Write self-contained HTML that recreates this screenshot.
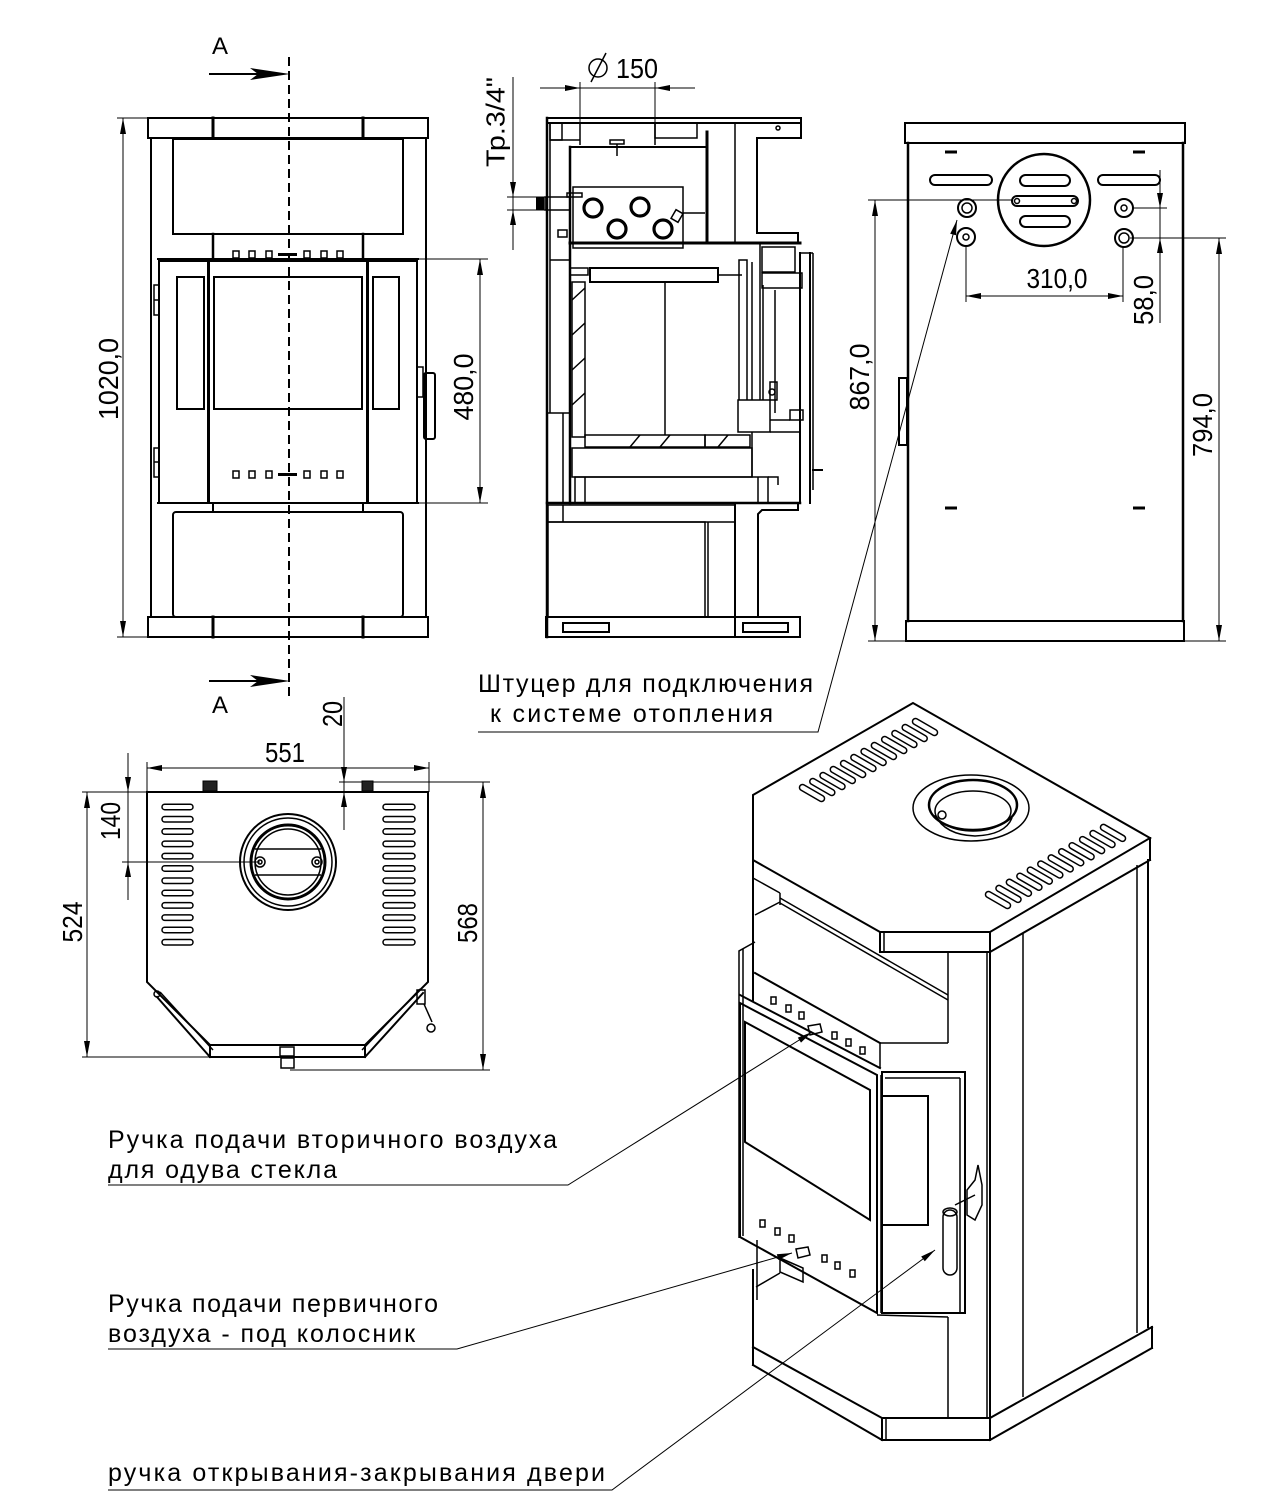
<!DOCTYPE html>
<html><head><meta charset="utf-8">
<style>
html,body{margin:0;padding:0;background:#fff;}
svg{display:block;}
text{font-family:"Liberation Sans","DejaVu Sans",sans-serif;fill:#000;}
.k{stroke:#000;fill:none;stroke-width:2;stroke-linecap:square;}
.m{stroke:#000;fill:none;stroke-width:1.5;}
.n{stroke:#000;fill:none;stroke-width:1;}
.a{fill:#000;stroke:none;}
.d{font-size:28px;}
.l{font-size:25px;}
</style></head>
<body>
<svg width="1280" height="1496" viewBox="0 0 1280 1496" xmlns="http://www.w3.org/2000/svg">
<rect x="0" y="0" width="1280" height="1496" fill="#fff"/>

<!-- ================= FRONT VIEW ================= -->
<text x="212" y="54" style="font-size:24px">A</text>
<line class="k" x1="210" y1="74" x2="270" y2="74"/>
<polygon class="a" points="290,74 250,68 258,74 250,80"/>
<text x="212" y="713" style="font-size:24px">A</text>
<line class="k" x1="210" y1="681" x2="270" y2="681"/>
<polygon class="a" points="290,681 250,675 258,681 250,687"/>
<line x1="289" y1="57" x2="289" y2="700" stroke="#000" stroke-width="2" stroke-dasharray="9,5"/>

<g class="k">
<rect x="148" y="118" width="280" height="20"/>
<line x1="213" y1="118" x2="213" y2="138" stroke-width="3"/>
<line x1="363" y1="118" x2="363" y2="138" stroke-width="3"/>
<line x1="151" y1="138" x2="151" y2="617"/>
<line x1="426" y1="138" x2="426" y2="617"/>
<rect x="173" y="139" width="230" height="95"/>
<line x1="213" y1="234" x2="213" y2="259" stroke-width="2.5"/>
<line x1="363" y1="234" x2="363" y2="259" stroke-width="2.5"/>
<line x1="158" y1="259" x2="418" y2="259"/>
<rect x="159" y="261" width="49" height="242"/>
<rect x="209" y="261" width="158" height="242"/>
<rect x="368" y="261" width="49" height="242"/>
<rect x="177" y="277" width="27" height="132"/>
<rect x="214" y="277" width="148" height="132"/>
<rect x="373" y="277" width="26" height="132"/>
<line x1="158" y1="503" x2="418" y2="503"/>
<line x1="213" y1="503" x2="213" y2="512"/>
<line x1="363" y1="503" x2="363" y2="512"/>
<rect x="173" y="512" width="230" height="105" rx="3"/>
<rect x="148" y="617" width="280" height="20"/>
<line x1="213" y1="617" x2="213" y2="637" stroke-width="3"/>
<line x1="363" y1="617" x2="363" y2="637" stroke-width="3"/>
</g>
<g class="m">
<rect x="233" y="251" width="6" height="7"/><rect x="249" y="251" width="6" height="7"/><rect x="266" y="251" width="6" height="7"/>
<rect x="304" y="251" width="6" height="7"/><rect x="321" y="251" width="6" height="7"/><rect x="337" y="251" width="6" height="7"/>
<rect x="233" y="471" width="6" height="7"/><rect x="249" y="471" width="6" height="7"/><rect x="266" y="471" width="6" height="7"/>
<rect x="304" y="471" width="6" height="7"/><rect x="321" y="471" width="6" height="7"/><rect x="337" y="471" width="6" height="7"/>
<rect x="154" y="285" width="5" height="30"/><line x1="154" y1="300" x2="159" y2="300"/>
<rect x="154" y="448" width="5" height="29"/><line x1="154" y1="462" x2="159" y2="462"/>
<rect x="417" y="367" width="6" height="30"/>
</g>
<line x1="278" y1="254.5" x2="297" y2="254.5" stroke="#000" stroke-width="3"/>
<line x1="278" y1="474.5" x2="297" y2="474.5" stroke="#000" stroke-width="3"/>
<rect x="424" y="373" width="11" height="66" rx="2" class="k"/>

<!-- 1020 dim -->
<g class="n">
<line x1="117" y1="118" x2="148" y2="118"/>
<line x1="117" y1="637" x2="148" y2="637"/>
<line x1="123" y1="118" x2="123" y2="637"/>
<line x1="417" y1="259" x2="488" y2="259"/>
<line x1="417" y1="503" x2="488" y2="503"/>
<line x1="480" y1="259" x2="480" y2="503"/>
</g>
<polygon class="a" points="123,118 120,134 126,134"/>
<polygon class="a" points="123,637 120,621 126,621"/>
<polygon class="a" points="480,259 477,275 483,275"/>
<polygon class="a" points="480,503 477,487 483,487"/>
<text class="d" transform="translate(108,379) rotate(-90)" text-anchor="middle" dy="0.36em" textLength="82" lengthAdjust="spacingAndGlyphs">1020,0</text>
<text class="d" transform="translate(463,387) rotate(-90)" text-anchor="middle" dy="0.36em" textLength="67" lengthAdjust="spacingAndGlyphs">480,0</text>

<!-- ================= SECTION VIEW ================= -->
<g class="n">
<line x1="540" y1="88" x2="695" y2="88"/>
<line x1="580" y1="82" x2="580" y2="143"/>
<line x1="655" y1="82" x2="655" y2="143"/>
<line x1="513" y1="77" x2="513" y2="250"/>
<line x1="507" y1="197" x2="547" y2="197"/>
<line x1="507" y1="210" x2="547" y2="210"/>
</g>
<polygon class="a" points="580,88 565,85 565,91"/>
<polygon class="a" points="655,88 670,85 670,91"/>
<polygon class="a" points="513,197 510,182 516,182"/>
<polygon class="a" points="513,210 510,225 516,225"/>
<circle cx="598" cy="68" r="9" class="m"/>
<line x1="591" y1="82" x2="606" y2="53" class="m"/>
<text class="d" x="637" y="78" text-anchor="middle" textLength="42" lengthAdjust="spacingAndGlyphs">150</text>
<text style="font-size:26px" transform="translate(495,122) rotate(-90)" text-anchor="middle" dy="0.36em" textLength="90" lengthAdjust="spacingAndGlyphs">Тр.3/4"</text>

<g class="k">
<rect x="547" y="118" width="254" height="5"/>
<line x1="801" y1="118" x2="801" y2="138"/>
<line x1="547" y1="118" x2="547" y2="637" stroke-width="2.5"/>
<line x1="570" y1="147" x2="707" y2="147"/>
<line x1="570" y1="147" x2="570" y2="503" stroke-width="2.5"/>
<line x1="707" y1="132" x2="707" y2="243" stroke-width="3"/>
<line x1="570" y1="243" x2="800" y2="243" stroke-width="3"/>
<polyline points="801,138 757,138 757,233 798,233 798,243"/>
<rect x="590" y="268" width="128" height="14"/>
<line x1="547" y1="503" x2="800" y2="503" stroke-width="2.5"/>
<line x1="735" y1="503" x2="735" y2="637"/>
<polyline points="798,503 798,510 762,510 758,514 758,617"/>
<rect x="546" y="617" width="254" height="20"/>
<rect x="563" y="623" width="46" height="9"/>
<rect x="743" y="623" width="45" height="9"/>
<line x1="800" y1="253" x2="800" y2="503"/>
<line x1="810" y1="253" x2="810" y2="503"/>
</g>
<g class="m">
<line x1="550" y1="123" x2="550" y2="413"/>
<rect x="550" y="123" width="12" height="17"/>
<line x1="550" y1="140" x2="580" y2="140"/>
<line x1="580" y1="123" x2="580" y2="145"/>
<line x1="655" y1="123" x2="655" y2="145"/>
<rect x="655" y="123" width="42" height="15"/>
<rect x="610" y="140" width="14" height="4"/>
<line x1="617" y1="144" x2="617" y2="156"/>
<line x1="735" y1="123" x2="735" y2="243"/>
<circle cx="778" cy="128" r="2"/>
<rect x="573" y="187" width="110" height="61"/>
<rect x="545" y="197" width="25" height="13"/>
<rect x="567" y="193" width="15" height="4"/>
<rect x="558" y="230" width="9" height="7"/>
<line x1="683" y1="213" x2="705" y2="213"/>
<rect x="673" y="211" width="8" height="10" transform="rotate(30 677 216)"/>
<line x1="550" y1="260" x2="570" y2="260"/>
<rect x="570" y="268" width="18" height="7"/>
<line x1="718" y1="275" x2="742" y2="275"/>
<line x1="665" y1="282" x2="665" y2="435"/>
<rect x="572" y="282" width="13" height="155"/>
<line x1="572" y1="300" x2="585" y2="288"/>
<line x1="572" y1="335" x2="585" y2="323"/>
<line x1="572" y1="370" x2="585" y2="358"/>
<line x1="572" y1="405" x2="585" y2="393"/>
<polyline points="739,400 739,260 747,260 747,400"/>
<line x1="752" y1="262" x2="752" y2="400"/>
<line x1="760" y1="243" x2="760" y2="400"/>
<line x1="763" y1="285" x2="763" y2="400"/>
<line x1="775" y1="290" x2="775" y2="413"/>
<rect x="762" y="247" width="33" height="25"/>
<rect x="762" y="273" width="40" height="15"/>
<line x1="813" y1="253" x2="813" y2="490"/>
<line x1="800" y1="253" x2="813" y2="253"/>
<rect x="738" y="400" width="32" height="32"/>
<rect x="770" y="382" width="7" height="18"/>
<circle cx="772" cy="392" r="3"/>
<rect x="790" y="410" width="13" height="10"/>
<line x1="770" y1="432" x2="800" y2="432"/>
<line x1="770" y1="420" x2="790" y2="420"/>
<rect x="585" y="435" width="120" height="12"/>
<rect x="705" y="435" width="45" height="12"/>
<line x1="630" y1="447" x2="640" y2="435"/>
<line x1="660" y1="447" x2="670" y2="435"/>
<line x1="718" y1="447" x2="728" y2="435"/>
<rect x="572" y="448" width="180" height="29"/>
<rect x="575" y="477" width="193" height="26"/>
<line x1="585" y1="477" x2="585" y2="503"/>
<line x1="758" y1="477" x2="758" y2="503"/>
<polyline points="768,477 778,477 778,485"/>
<line x1="752" y1="432" x2="752" y2="477"/>
<rect x="548" y="505" width="187" height="17"/>
<line x1="563" y1="505" x2="563" y2="522"/>
<rect x="548" y="522" width="157" height="95"/>
<line x1="708" y1="522" x2="708" y2="617"/>
<line x1="563" y1="413" x2="563" y2="503"/>
<line x1="548" y1="413" x2="569" y2="413"/>
</g>
<rect x="536" y="197" width="8" height="13" class="a"/>
<line x1="812" y1="470" x2="823" y2="470" stroke="#000" stroke-width="2"/>
<circle cx="593" cy="208" r="9" fill="none" stroke="#000" stroke-width="3.2"/>
<circle cx="640" cy="207" r="9" fill="none" stroke="#000" stroke-width="3.2"/>
<circle cx="617" cy="229" r="9" fill="none" stroke="#000" stroke-width="3.2"/>
<circle cx="663" cy="229" r="9" fill="none" stroke="#000" stroke-width="3.2"/>

<!-- ================= BACK VIEW ================= -->
<g class="k">
<rect x="905" y="123" width="280" height="20"/>
<line x1="908" y1="143" x2="908" y2="621" stroke-width="2.5"/>
<line x1="1183" y1="143" x2="1183" y2="621" stroke-width="2.5"/>
<rect x="906" y="621" width="278" height="20"/>
<circle cx="1044" cy="200" r="46" stroke-width="2.5"/>
<rect x="930" y="175" width="62" height="10" rx="5"/>
<rect x="1098" y="175" width="62" height="10" rx="5"/>
<rect x="1020" y="175" width="50" height="11" rx="5.5"/>
<rect x="1012" y="196" width="66" height="10" rx="5"/>
<rect x="1020" y="216" width="50" height="11" rx="5.5"/>
<circle cx="967" cy="208" r="9"/>
<circle cx="966" cy="237" r="9"/>
<circle cx="1124" cy="208" r="9"/>
<circle cx="1124" cy="238" r="9"/>
<rect x="899" y="378" width="8" height="67"/>
</g>
<g class="m">
<circle cx="967" cy="208" r="5"/>
<circle cx="966" cy="237" r="3"/>
<circle cx="1124" cy="208" r="3"/>
<circle cx="1124" cy="238" r="5"/>
<circle cx="1017" cy="201" r="2.5"/>
<circle cx="1074" cy="201" r="2.5"/>
</g>
<g stroke="#000" stroke-width="3">
<line x1="945" y1="152" x2="957" y2="152"/><line x1="1133" y1="152" x2="1145" y2="152"/>
<line x1="945" y1="508" x2="957" y2="508"/><line x1="1133" y1="508" x2="1145" y2="508"/>
</g>
<g class="n">
<line x1="868" y1="200" x2="1013" y2="200"/>
<line x1="868" y1="641" x2="1226" y2="641"/>
<line x1="875" y1="200" x2="875" y2="641"/>
<line x1="1130" y1="238" x2="1226" y2="238"/>
<line x1="1219" y1="238" x2="1219" y2="641"/>
<line x1="1133" y1="208" x2="1167" y2="208"/>
<line x1="1160" y1="170" x2="1160" y2="323"/>
<line x1="966" y1="246" x2="966" y2="302"/>
<line x1="1123" y1="247" x2="1123" y2="302"/>
<line x1="966" y1="296" x2="1123" y2="296"/>
</g>
<polygon class="a" points="875,200 872,216 878,216"/>
<polygon class="a" points="875,641 872,625 878,625"/>
<polygon class="a" points="1219,238 1216,254 1222,254"/>
<polygon class="a" points="1219,641 1216,625 1222,625"/>
<polygon class="a" points="1160,208 1157,193 1163,193"/>
<polygon class="a" points="1160,238 1157,253 1163,253"/>
<polygon class="a" points="966,296 981,293 981,299"/>
<polygon class="a" points="1123,296 1108,293 1108,299"/>
<text class="d" x="1057" y="288" text-anchor="middle" textLength="61" lengthAdjust="spacingAndGlyphs">310,0</text>
<text class="d" transform="translate(1143,300) rotate(-90)" text-anchor="middle" dy="0.36em" textLength="50" lengthAdjust="spacingAndGlyphs">58,0</text>
<text class="d" transform="translate(859,377) rotate(-90)" text-anchor="middle" dy="0.36em" textLength="67" lengthAdjust="spacingAndGlyphs">867,0</text>
<text class="d" transform="translate(1202,425) rotate(-90)" text-anchor="middle" dy="0.36em" textLength="64" lengthAdjust="spacingAndGlyphs">794,0</text>

<!-- Штуцер label -->
<text class="l" x="478" y="692" textLength="335" lengthAdjust="spacing">Штуцер для подключения</text>
<text class="l" x="490" y="722" textLength="283" lengthAdjust="spacing">к системе отопления</text>
<polyline class="n" points="478,732 818,732 957,220"/>
<polygon class="a" points="957,220 956,235.3 950.2,233.7"/>

<!-- ================= TOP VIEW ================= -->
<g class="n">
<line x1="147" y1="762" x2="147" y2="792"/>
<line x1="429" y1="762" x2="429" y2="792"/>
<line x1="147" y1="768" x2="429" y2="768"/>
<line x1="344" y1="697" x2="344" y2="830"/>
<line x1="339" y1="782" x2="490" y2="782"/>
<line x1="82" y1="792" x2="147" y2="792"/>
<line x1="128" y1="753" x2="128" y2="900"/>
<line x1="122" y1="862" x2="260" y2="862"/>
<line x1="87" y1="792" x2="87" y2="1057"/>
<line x1="82" y1="1057" x2="210" y2="1057"/>
<line x1="483" y1="782" x2="483" y2="1070"/>
<line x1="290" y1="1070" x2="490" y2="1070"/>
</g>
<polygon class="a" points="147,768 162,765 162,771"/>
<polygon class="a" points="429,768 414,765 414,771"/>
<polygon class="a" points="344,782 341,767 347,767"/>
<polygon class="a" points="344,792 341,807 347,807"/>
<polygon class="a" points="128,792 125,777 131,777"/>
<polygon class="a" points="128,862 125,877 131,877"/>
<polygon class="a" points="87,792 84,808 90,808"/>
<polygon class="a" points="87,1057 84,1041 90,1041"/>
<polygon class="a" points="483,782 480,798 486,798"/>
<polygon class="a" points="483,1070 480,1054 486,1054"/>
<text class="d" x="285" y="762" text-anchor="middle" textLength="40" lengthAdjust="spacingAndGlyphs">551</text>
<text class="d" transform="translate(332,714) rotate(-90)" text-anchor="middle" dy="0.36em" textLength="26" lengthAdjust="spacingAndGlyphs">20</text>
<text class="d" transform="translate(110,821) rotate(-90)" text-anchor="middle" dy="0.36em" textLength="38" lengthAdjust="spacingAndGlyphs">140</text>
<text class="d" transform="translate(72,922) rotate(-90)" text-anchor="middle" dy="0.36em" textLength="41" lengthAdjust="spacingAndGlyphs">524</text>
<text class="d" transform="translate(467,923) rotate(-90)" text-anchor="middle" dy="0.36em" textLength="40" lengthAdjust="spacingAndGlyphs">568</text>

<g class="k">
<polygon points="147,792 428,792 428,982 365,1045 210,1045 147,982"/>
<line x1="157" y1="997" x2="210" y2="1057"/>
<line x1="423" y1="993" x2="365" y2="1057"/>
<line x1="210" y1="1057" x2="365" y2="1057"/>
<line x1="210" y1="1045" x2="210" y2="1057"/>
<line x1="365" y1="1045" x2="365" y2="1057"/>
<circle cx="288" cy="862" r="48"/>
<circle cx="288" cy="862" r="37" stroke-width="3"/>
</g>
<g class="m">
<line x1="160" y1="992" x2="213" y2="1050"/>
<line x1="420" y1="989" x2="362" y2="1050"/>
<circle cx="288" cy="862" r="44"/>
<circle cx="288" cy="862" r="33"/>
<line x1="255" y1="849" x2="321" y2="849"/>
<line x1="255" y1="875" x2="321" y2="875"/>
<circle cx="260" cy="862" r="5"/><circle cx="260" cy="862" r="2"/>
<circle cx="317" cy="862" r="5"/><circle cx="317" cy="862" r="2"/>
<circle cx="157" cy="994" r="3"/>
<rect x="280" y="1047" width="14" height="9"/>
<rect x="281" y="1058" width="13" height="10"/>
<rect x="417" y="990" width="8" height="14"/>
<line x1="424" y1="1004" x2="432" y2="1022"/>
<circle cx="431" cy="1028" r="4"/>
</g>
<rect x="203" y="781" width="14" height="10" fill="#222" stroke="#000"/>
<rect x="362" y="781" width="11" height="10" fill="#222" stroke="#000"/>
<g class="m">
<rect x="162" y="804.2" width="31" height="5.5" rx="2.75"/><rect x="383" y="804.2" width="32" height="5.5" rx="2.75"/>
<rect x="162" y="816.5" width="31" height="5.5" rx="2.75"/><rect x="383" y="816.5" width="32" height="5.5" rx="2.75"/>
<rect x="162" y="828.8" width="31" height="5.5" rx="2.75"/><rect x="383" y="828.8" width="32" height="5.5" rx="2.75"/>
<rect x="162" y="841.1" width="31" height="5.5" rx="2.75"/><rect x="383" y="841.1" width="32" height="5.5" rx="2.75"/>
<rect x="162" y="853.4" width="31" height="5.5" rx="2.75"/><rect x="383" y="853.4" width="32" height="5.5" rx="2.75"/>
<rect x="162" y="865.7" width="31" height="5.5" rx="2.75"/><rect x="383" y="865.7" width="32" height="5.5" rx="2.75"/>
<rect x="162" y="878.0" width="31" height="5.5" rx="2.75"/><rect x="383" y="878.0" width="32" height="5.5" rx="2.75"/>
<rect x="162" y="890.3" width="31" height="5.5" rx="2.75"/><rect x="383" y="890.3" width="32" height="5.5" rx="2.75"/>
<rect x="162" y="902.6" width="31" height="5.5" rx="2.75"/><rect x="383" y="902.6" width="32" height="5.5" rx="2.75"/>
<rect x="162" y="914.9" width="31" height="5.5" rx="2.75"/><rect x="383" y="914.9" width="32" height="5.5" rx="2.75"/>
<rect x="162" y="927.2" width="31" height="5.5" rx="2.75"/><rect x="383" y="927.2" width="32" height="5.5" rx="2.75"/>
<rect x="162" y="939.5" width="31" height="5.5" rx="2.75"/><rect x="383" y="939.5" width="32" height="5.5" rx="2.75"/>
</g>

<!-- ================= ISOMETRIC ================= -->
<g class="k">
<polygon points="913,703 753,795 753,860 880,932 990,932 1150,838"/>
<line x1="880" y1="932" x2="880" y2="952"/>
<line x1="990" y1="932" x2="990" y2="952"/>
<line x1="1150" y1="838" x2="1150" y2="860"/>
<line x1="880" y1="952" x2="990" y2="952"/>
<line x1="990" y1="952" x2="1150" y2="860"/>
<line x1="753" y1="860" x2="753" y2="1000"/>
<polygon points="740,1003 877,1075 877,1313 740,1237"/>
<line x1="740" y1="995" x2="880" y2="1068"/>
<line x1="755" y1="973" x2="880" y2="1043"/>
<rect x="882" y="1072" width="83" height="241"/>
<polygon points="745,1022 870,1090 870,1220 745,1142"/>
<rect x="882" y="1096" width="46" height="129"/>
<line x1="990" y1="952" x2="990" y2="1418"/>
<line x1="1148" y1="860" x2="1148" y2="1327"/>
<line x1="753" y1="1347" x2="882" y2="1418"/>
<line x1="882" y1="1418" x2="990" y2="1418"/>
<line x1="990" y1="1418" x2="1152" y2="1327"/>
<line x1="753" y1="1365" x2="882" y2="1440"/>
<line x1="882" y1="1440" x2="990" y2="1440"/>
<line x1="990" y1="1440" x2="1152" y2="1348"/>
<line x1="753" y1="1347" x2="753" y2="1365"/>
<line x1="882" y1="1418" x2="882" y2="1440"/>
<line x1="990" y1="1418" x2="990" y2="1440"/>
<line x1="1152" y1="1327" x2="1152" y2="1348"/>
<line x1="753" y1="1270" x2="753" y2="1347"/>
</g>
<g class="m">
<line x1="884" y1="932" x2="884" y2="952"/>
<line x1="987" y1="952" x2="987" y2="1418"/>
<line x1="1023" y1="933" x2="1023" y2="1397"/>
<line x1="1137" y1="865" x2="1137" y2="1333"/>
<line x1="886" y1="1418" x2="886" y2="1440"/>
<line x1="753" y1="878" x2="780" y2="893"/>
<line x1="755" y1="915" x2="780" y2="902"/>
<line x1="780" y1="893" x2="780" y2="905"/>
<line x1="780" y1="898" x2="948" y2="995"/>
<line x1="780" y1="903" x2="948" y2="1000"/>
<line x1="948" y1="952" x2="948" y2="1043"/>
<line x1="880" y1="1043" x2="948" y2="1043"/>
<line x1="880" y1="1043" x2="880" y2="1068"/>
<polyline points="755,942 739,951 739,1238"/>
<line x1="743" y1="949" x2="743" y2="1236"/>
<line x1="885" y1="1078" x2="960" y2="1078"/>
<line x1="960" y1="1078" x2="960" y2="1313"/>
<line x1="881" y1="1075" x2="881" y2="1313"/>
<line x1="948" y1="1317" x2="948" y2="1418"/>
<line x1="877" y1="1315" x2="948" y2="1317"/>
<line x1="757" y1="1240" x2="757" y2="1300"/>
<line x1="756" y1="1287" x2="780" y2="1273"/>
<polygon points="780,1258 803,1268 803,1282 780,1272"/>
<rect x="943" y="1210" width="14" height="65" rx="7"/>
<ellipse cx="950" cy="1212" rx="7" ry="4"/>
<path d="M967,1215 L967,1190 L975,1180 L978,1165 L982,1185 L982,1205 L975,1220 Z"/>
<line x1="955" y1="1205" x2="975" y2="1195"/>
<rect x="771" y="997" width="5" height="7"/><rect x="786" y="1005" width="5" height="7"/><rect x="799" y="1012" width="5" height="7"/>
<rect x="832" y="1032" width="5" height="7"/><rect x="846" y="1039" width="5" height="7"/><rect x="860" y="1047" width="5" height="7"/>
<polygon points="808,1026 820,1024 822,1032 810,1035"/>
<rect x="760" y="1220" width="5" height="7"/><rect x="775" y="1228" width="5" height="7"/><rect x="789" y="1235" width="5" height="7"/>
<rect x="822" y="1255" width="5" height="7"/><rect x="835" y="1262" width="5" height="7"/><rect x="850" y="1270" width="5" height="7"/>
<polygon points="796,1249 808,1247 810,1255 798,1258"/>
<ellipse cx="971" cy="808" rx="58" ry="33"/>
<ellipse cx="973" cy="805" rx="44" ry="25" stroke-width="2.5"/>
<ellipse cx="973" cy="811" rx="38" ry="20"/>
<path d="M935,815 Q945,835 975,836 Q1005,835 1012,818"/>
<circle cx="942" cy="815" r="4"/>
</g>
<g class="m">
<rect x="-14" y="-3" width="28" height="6" rx="3" transform="translate(812,793) rotate(30)"/>
<rect x="-14" y="-3" width="28" height="6" rx="3" transform="translate(822.3,787) rotate(30)"/>
<rect x="-14" y="-3" width="28" height="6" rx="3" transform="translate(832.5,781) rotate(30)"/>
<rect x="-14" y="-3" width="28" height="6" rx="3" transform="translate(842.8,775) rotate(30)"/>
<rect x="-14" y="-3" width="28" height="6" rx="3" transform="translate(853.1,769) rotate(30)"/>
<rect x="-14" y="-3" width="28" height="6" rx="3" transform="translate(863.4,763) rotate(30)"/>
<rect x="-14" y="-3" width="28" height="6" rx="3" transform="translate(873.6,757) rotate(30)"/>
<rect x="-14" y="-3" width="28" height="6" rx="3" transform="translate(883.9,751) rotate(30)"/>
<rect x="-14" y="-3" width="28" height="6" rx="3" transform="translate(894.2,745) rotate(30)"/>
<rect x="-14" y="-3" width="28" height="6" rx="3" transform="translate(904.4,739) rotate(30)"/>
<rect x="-14" y="-3" width="28" height="6" rx="3" transform="translate(914.7,733) rotate(30)"/>
<rect x="-14" y="-3" width="28" height="6" rx="3" transform="translate(925,727) rotate(30)"/>
<rect x="-14" y="-3" width="28" height="6" rx="3" transform="translate(998,900) rotate(30)"/>
<rect x="-14" y="-3" width="28" height="6" rx="3" transform="translate(1008.5,893.9) rotate(30)"/>
<rect x="-14" y="-3" width="28" height="6" rx="3" transform="translate(1018.9,887.8) rotate(30)"/>
<rect x="-14" y="-3" width="28" height="6" rx="3" transform="translate(1029.4,881.7) rotate(30)"/>
<rect x="-14" y="-3" width="28" height="6" rx="3" transform="translate(1039.8,875.6) rotate(30)"/>
<rect x="-14" y="-3" width="28" height="6" rx="3" transform="translate(1050.3,869.5) rotate(30)"/>
<rect x="-14" y="-3" width="28" height="6" rx="3" transform="translate(1060.7,863.4) rotate(30)"/>
<rect x="-14" y="-3" width="28" height="6" rx="3" transform="translate(1071.2,857.3) rotate(30)"/>
<rect x="-14" y="-3" width="28" height="6" rx="3" transform="translate(1081.6,851.2) rotate(30)"/>
<rect x="-14" y="-3" width="28" height="6" rx="3" transform="translate(1092.1,845.1) rotate(30)"/>
<rect x="-14" y="-3" width="28" height="6" rx="3" transform="translate(1102.5,839) rotate(30)"/>
<rect x="-14" y="-3" width="28" height="6" rx="3" transform="translate(1113,832.9) rotate(30)"/>
</g>

<!-- ================= LABELS ================= -->
<text class="l" x="108" y="1148" textLength="449" lengthAdjust="spacing">Ручка подачи вторичного воздуха</text>
<text class="l" x="108" y="1178" textLength="229" lengthAdjust="spacing">для одува стекла</text>
<polyline class="n" points="108,1185 568,1185 812,1032"/>
<polygon class="a" points="812,1032 801,1042.6 797.8,1037.6"/>

<text class="l" x="108" y="1312" textLength="330" lengthAdjust="spacing">Ручка подачи первичного</text>
<text class="l" x="108" y="1342" textLength="307" lengthAdjust="spacing">воздуха - под колосник</text>
<polyline class="n" points="108,1349 457,1349 792,1253"/>
<polygon class="a" points="792,1253 778.4,1260 776.8,1254.2"/>

<text class="l" x="108" y="1481" textLength="497" lengthAdjust="spacing">ручка открывания-закрывания двери</text>
<polyline class="n" points="108,1490 612,1490 935,1250"/>
<polygon class="a" points="935,1250 924.8,1261.3 921.2,1256.5"/>
</svg>
</body></html>
